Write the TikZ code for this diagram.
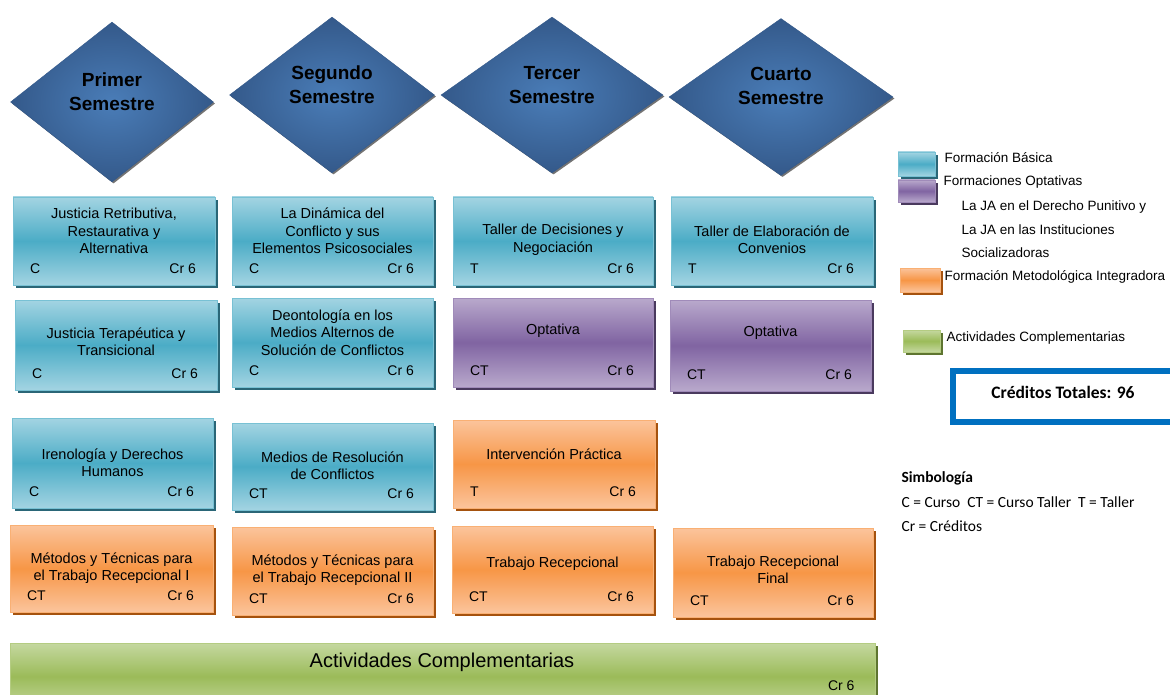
\documentclass[tikz,border=0pt]{standalone}
\usepackage{fontspec}
\setmainfont{Liberation Sans}
\newfontfamily\calibri{Carlito}
\usetikzlibrary{
    shapes.geometric,
    shadows,
    fit,
    calc,
}

\definecolor{azulclaro}{HTML}{A3D4E2}
\definecolor{azul}{HTML}{4BACC6}
\definecolor{azulsombra}{HTML}{2A6677}
\definecolor{moradoclaro}{HTML}{B9A9CC}
\definecolor{morado}{HTML}{8064A2}
\definecolor{moradosombra}{HTML}{4A3A5E}
\definecolor{naranjaclaro}{HTML}{FBC49C}
\definecolor{naranja}{HTML}{F79646}
\definecolor{naranjasombra}{HTML}{A5520E}
\definecolor{verdeclaro}{HTML}{C5D8A0}
\definecolor{verde}{HTML}{9BBB59}
\definecolor{verdesombra}{HTML}{5E7530}
\definecolor{romboclaro}{HTML}{4A7DB8}
\definecolor{rombooscuro}{HTML}{34598A}
\definecolor{creditos}{HTML}{0070C0}

\tikzset{
  semestre/.style={diamond, inner sep=0pt, shading=radial,
    inner color=romboclaro, outer color=rombooscuro, draw=rombooscuro,
    general shadow={fill=black!55, shadow xshift=1.5pt, shadow yshift=-1.5pt}},
  semestretexto/.style={align=center, font=\fontsize{19}{24}\selectfont\bfseries},
  caja/.style n args={3}{inner sep=0pt, draw=#1!75!white, line width=0.8pt,
    top color=#2, bottom color=#2, middle color=#1,
    general shadow={fill=#3, shadow xshift=3pt, shadow yshift=-3pt}},
  basica/.style={caja={azul}{azulclaro}{azulsombra}},
  optativa/.style={caja={morado}{moradoclaro}{moradosombra}},
  metodologica/.style={caja={naranja}{naranjaclaro}{naranjasombra}},
  complementaria/.style={caja={verde}{verdeclaro}{verdesombra}},
  titulo/.style={align=center, font=\fontsize{14.5}{17.5}\selectfont},
  pie/.style={font=\fontsize{14}{16}\selectfont},
  leyenda/.style={anchor=west, font=\fontsize{13.5}{16}\selectfont},
  simbolo/.style={anchor=west, font=\calibri\fontsize{15.5}{18}\selectfont},
}

% name, style, corner, corner, title offset, title, type
\newcommand{\materia}[7]{%
  \node[#2, fit={#3 #4}] (#1) {};
  \node[titulo] (#1-t) at ($(#1.north)+(0,#5)$) {#6};
  \node[pie, anchor=base west] (#1-tipo) at ($(#1.south west)+(14,-12)$) {#7};
  \node[pie, anchor=base east] (#1-cr) at ($(#1.south east)+(-16,-12)$) {Cr 6};
}

\begin{document}
\begin{tikzpicture}[x=1pt, y=-1pt]
  \useasboundingbox (0,0) rectangle (1170,695);

  % semestres
  \node[semestre, minimum width=203pt, minimum height=160pt] (s1) at (112,102) {};
  \node[semestre, minimum width=205pt, minimum height=156pt] (s2) at (332,95) {};
  \node[semestre, minimum width=222pt, minimum height=156pt] (s3) at (552,95) {};
  \node[semestre, minimum width=224pt, minimum height=157pt] (s4) at (781,97) {};
  \node[semestretexto] (s1-t) at ($(s1)+(0,-10)$) {Primer\\Semestre};
  \node[semestretexto] (s2-t) at ($(s2)+(0,-10)$) {Segundo\\Semestre};
  \node[semestretexto] (s3-t) at ($(s3)+(0,-10)$) {Tercer\\Semestre};
  \node[semestretexto] (s4-t) at ($(s4)+(0,-11)$) {Cuarto\\Semestre};

  % primer semestre
  \materia{jrra}{basica}{(13,197)}{(215,285)}{34.5}{Justicia Retributiva,\\Restaurativa y\\Alternativa}{C}
  \materia{jtt}{basica}{(15,300)}{(217,390)}{42}{Justicia Terapéutica y\\Transicional}{C}
  \materia{idh}{basica}{(12,418)}{(213,508)}{45}{Irenología y Derechos\\Humanos}{C}
  \materia{mt1}{metodologica}{(10,525)}{(213,612)}{43.5}{Métodos y Técnicas para\\el Trabajo Recepcional I}{CT}

  % segundo semestre
  \materia{dcep}{basica}{(232,197)}{(433,285)}{34.5}{La Dinámica del\\Conflicto y sus\\Elementos Psicosociales}{C}
  \materia{deo}{basica}{(232,298)}{(433,387)}{35}{Deontología en los\\Medios Alternos de\\Solución de Conflictos}{C}
  \materia{mrc}{basica}{(232,423)}{(433,510)}{43}{Medios de Resolución\\de Conflictos}{CT}
  \materia{mt2}{metodologica}{(232,527)}{(433,615)}{43.5}{Métodos y Técnicas para\\el Trabajo Recepcional II}{CT}

  % tercer semestre
  \materia{tdn}{basica}{(453,197)}{(653,285)}{43}{Taller de Decisiones y\\Negociación}{T}
  \materia{opt1}{optativa}{(453,298)}{(653,387)}{33}{Optativa}{CT}
  \materia{ip}{metodologica}{(453,420)}{(655,508)}{35}{Intervención Práctica}{T}
  \materia{tr}{metodologica}{(452,526)}{(653,613)}{38}{Trabajo Recepcional}{CT}

  % cuarto semestre
  \materia{tec}{basica}{(671,197)}{(873,285)}{43}{Taller de Elaboración de\\Convenios}{T}
  \materia{opt2}{optativa}{(670,300)}{(871,391)}{33}{Optativa}{CT}
  \materia{trf}{metodologica}{(673,528)}{(873,617)}{42}{Trabajo Recepcional\\Final}{CT}

  % actividades complementarias
  \node[complementaria, fit={(10,643) (875,710)}] (act) {};
  \node[font=\fontsize{20}{24}\selectfont] (act-t) at (442,662) {Actividades Complementarias};
  \node[pie, anchor=base east] (act-cr) at (858,690) {Cr 6};

  % leyenda
  \node[basica, fit={(898,152) (935,176)}] (lb) {};
  \node[optativa, fit={(898,180) (935,202)}] (lo) {};
  \node[metodologica, fit={(900,268) (940,292)}] (lm) {};
  \node[complementaria, fit={(903,330) (940,352)}] (lc) {};
  \node[leyenda] (lb-t) at (941,158) {Formación Básica};
  \node[leyenda] (lo-t) at (940,182) {Formaciones Optativas};
  \node[leyenda] (lo-1) at (958,207) {La JA en el Derecho Punitivo y};
  \node[leyenda] (lo-2) at (958,230) {La JA en las Instituciones};
  \node[leyenda] (lo-3) at (958,253) {Socializadoras};
  \node[leyenda] (lm-t) at (941,277) {Formación Metodológica Integradora};
  \node[leyenda] (lc-t) at (943,338) {Actividades Complementarias};

  % creditos
  \node[draw=creditos, line width=6pt, inner sep=0pt, fit={(953,371) (1195,422)}] (cred) {};
  \node[font=\calibri\fontsize{17.5}{20}\selectfont\bfseries] (cred-t) at (1063,392) {Créditos Totales: 96};

  % simbologia
  \node[simbolo, font=\calibri\fontsize{15.5}{18}\selectfont\bfseries] (sim) at (898,478) {Simbología};
  \node[simbolo] (sim-1) at (898,502) {C = Curso\ \ CT = Curso Taller\ \ T = Taller};
  \node[simbolo] (sim-2) at (898,526) {Cr = Créditos};
\end{tikzpicture}
\end{document}
